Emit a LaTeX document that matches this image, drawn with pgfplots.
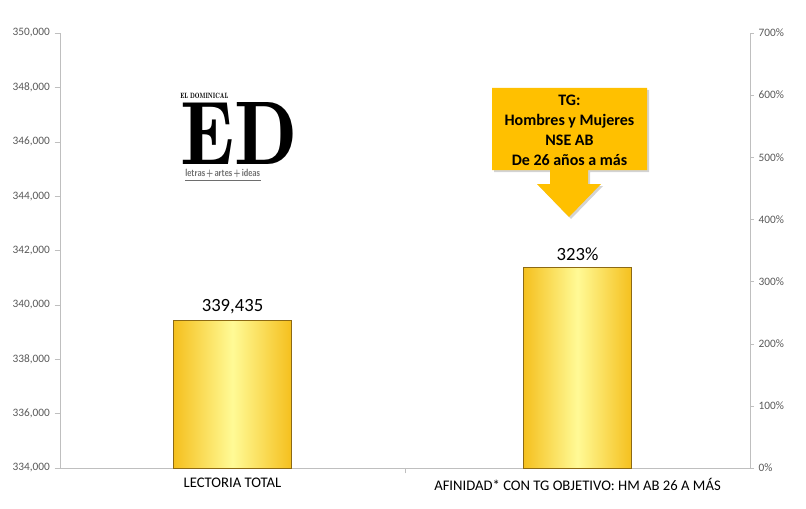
\documentclass[border=0pt]{standalone}
\usepackage{fontspec}
\setmainfont{Carlito}
\usepackage{pgfplots}
\pgfplotsset{compat=1.18}
\usetikzlibrary{shadows}

\definecolor{axisgray}{RGB}{191,191,191}
\definecolor{ticktext}{RGB}{89,89,89}
\definecolor{goldedge}{RGB}{245,192,30}
\definecolor{goldmid}{RGB}{255,250,150}
\definecolor{goldline}{RGB}{140,105,20}
\definecolor{callout}{RGB}{255,192,0}
\definecolor{logogray}{RGB}{110,110,110}

\begin{document}
\begin{tikzpicture}[x=0.75pt,y=0.75pt]
\useasboundingbox (0,0) rectangle (806,508);
\pgfplotsset{
  base/.style={
    scale only axis, width=517.5pt, height=326.25pt,
    at={(45pt,30pt)}, anchor=south west,
    xmin=-0.5, xmax=1.5,
    ybar,
    axis line style={axisgray},
    tick style={axisgray},
    tick align=outside,
    major tick length=3pt,
    tick label style={font=\fontsize{8.5}{10}\selectfont, text=ticktext},
    /pgf/number format/assume math mode=true,
    nodes near coords style={font=\fontsize{14}{16}\selectfont, text=black, yshift=1pt},
  }
}

% left axis: readers
\begin{axis}[base,
  ymin=334000, ymax=350000,
  ytick={334000,336000,338000,340000,342000,344000,346000,348000,350000},
  scaled y ticks=false,
  yticklabel style={/pgf/number format/.cd, fixed, precision=0, 1000 sep={,}},
  axis y line*=left, axis x line*=bottom,
  xtick={0.5}, xticklabels={},
  major tick length=4pt,
  extra x ticks={0,1},
  extra x tick labels={LECTORIA TOTAL, AFINIDAD* CON TG OBJETIVO: HM AB 26 A MÁS},
  extra x tick style={major tick length=0pt,
    tick label style={font=\fontsize{11}{13}\selectfont, text=black, yshift=-4pt}},
  bar width=88pt,
  nodes near coords={\pgfmathprintnumber[fixed,1000 sep={,},precision=0]{\pgfplotspointmeta}},
]
\addplot[left color=goldedge, right color=goldedge, middle color=goldmid,
  draw=goldline, line width=0.7pt] coordinates {(0,339435)};
\end{axis}

% right axis: affinity
\begin{axis}[base,
  ymin=0, ymax=700,
  ytick={0,100,200,300,400,500,600,700},
  axis y line*=right, axis x line=none,
  xtick=\empty,
  yticklabel={\pgfmathprintnumber[fixed,precision=0]{\tick}\%},
  bar width=81pt,
  nodes near coords={\pgfmathprintnumber[fixed,precision=0]{\pgfplotspointmeta}\%},
]
\addplot[left color=goldedge, right color=goldedge, middle color=goldmid,
  draw=goldline, line width=0.7pt] coordinates {(1,323)};
\end{axis}

% logo
\node[anchor=south west, inner sep=0] at (180,343)
  {\resizebox{88pt}{46.5pt}{\fontfamily{lmr}\bfseries ED}};
\node[anchor=south west, inner sep=0] at (180,409.5)
  {\resizebox{36pt}{4pt}{\fontfamily{lmr}\bfseries EL DOMINICAL}};
\node[anchor=south west, inner sep=0, text=logogray] at (185,330)
  {\resizebox{56pt}{5.5pt}{\sffamily\bfseries letras\,+\,artes\,+\,ideas}};
\draw[logogray, line width=0.7pt] (185,327.5) -- (261,327.5);

% callout
\fill[callout, drop shadow={opacity=0.35, shadow xshift=1.5pt, shadow yshift=-1.5pt}]
  (492,420) -- (647,420) -- (647,338) -- (588,338) -- (588,324) -- (601,324)
  -- (569,291) -- (537,324) -- (550,324) -- (550,338) -- (492,338) -- cycle;
\node[align=center, font=\fontsize{12}{15}\selectfont\bfseries] at (569.5,378)
  {TG:\\Hombres y Mujeres\\NSE AB\\De 26 años a más};
\end{tikzpicture}
\end{document}
